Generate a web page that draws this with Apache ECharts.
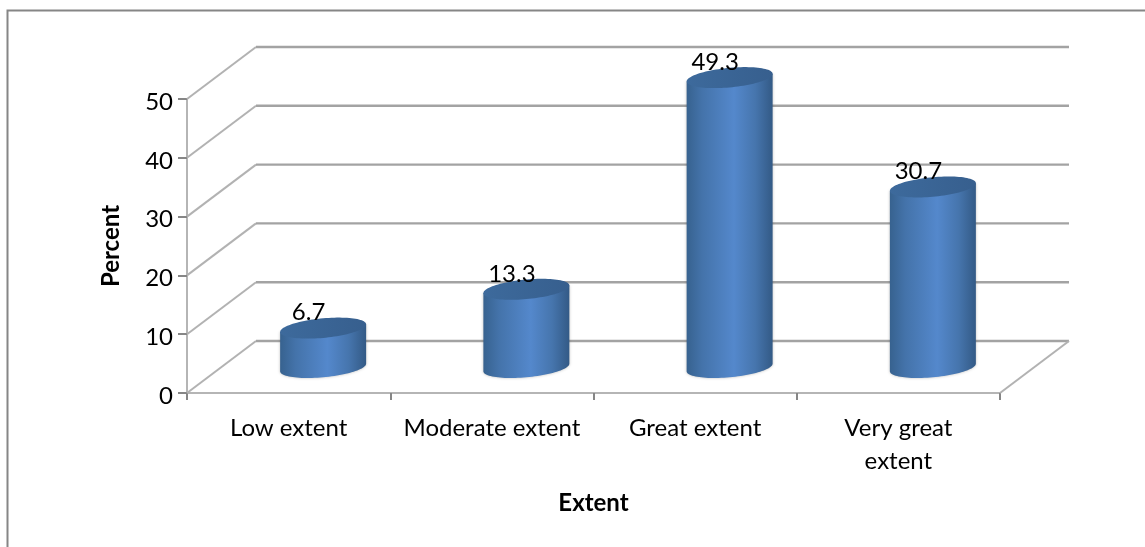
<!DOCTYPE html>
<html>
<head>
<meta charset="utf-8">
<style>html,body{margin:0;padding:0;background:#fff}#c{width:1145px;height:547px}</style>
<script src="https://cdn.jsdelivr.net/npm/echarts@6/dist/echarts.min.js"></script>
</head>
<body>
<div id="c"></div>
<script>
const categories = ['Low extent', 'Moderate extent', 'Great extent', 'Very great\nextent'];
const percents = [6.7, 13.3, 49.3, 30.7];
const wallTicks = [0, 10, 20, 30, 40, 50];

// Oblique projection used for the floor, the back wall and the cylinders
const DEPTH_X = 69, DEPTH_Y = -52;
const FONT = 'Lato, "Open Sans", sans-serif';
const TEXT_SIZE = 24;

const bodyFill = new echarts.graphic.LinearGradient(0, 0, 1, 0, [
  { offset: 0, color: '#37628f' },
  { offset: 0.18, color: '#4473aa' },
  { offset: 0.55, color: '#5488cc' },
  { offset: 0.8, color: '#4675ad' },
  { offset: 1, color: '#335a86' }
]);
const capFill = new echarts.graphic.LinearGradient(0, 0, 1, 0, [
  { offset: 0, color: '#3d6a9c' },
  { offset: 1, color: '#375f8e' }
]);

function renderWall(params, api) {
  const v = api.value(0);
  const g = params.coordSys;
  const y = api.coord([0, v])[1];
  const backY = y + DEPTH_Y;
  const sideStyle = { stroke: '#b2b2b2', lineWidth: 2 };
  const backStyle = { stroke: '#a3a3a3', lineWidth: 2.4 };
  const children = [
    {
      type: 'line',
      shape: { x1: g.x, y1: y, x2: g.x + DEPTH_X, y2: backY },
      style: sideStyle
    },
    {
      type: 'line',
      shape: { x1: g.x + DEPTH_X, y1: backY, x2: g.x + g.width + DEPTH_X, y2: backY },
      style: backStyle
    }
  ];
  if (v === 0) {
    children.push({
      type: 'line',
      shape: { x1: g.x + g.width, y1: y, x2: g.x + g.width + DEPTH_X, y2: backY },
      style: sideStyle
    });
  }
  return { type: 'group', children };
}

function renderCylinder(params, api) {
  const i = api.value(0);
  const v = api.value(1);
  const band = api.size([1, 0])[0];
  const base = api.coord([i, 0]);
  const top = api.coord([i, v]);
  const cx = base[0] + DEPTH_X / 2;
  const rx = band * 0.2115, ry = 9.8, tilt = 3.8;
  const baseY = base[1] - 25.5;
  const topY = top[1] - 25.5;
  const rim = (cy, a) => [cx + rx * Math.cos(a), cy + ry * Math.sin(a) - tilt * Math.cos(a)];
  const body = [rim(topY, 0)];
  const cap = [];
  for (let k = 0; k <= 48; k++) body.push(rim(baseY, Math.PI * k / 48));
  body.push(rim(topY, Math.PI));
  for (let k = 0; k < 96; k++) cap.push(rim(topY, 2 * Math.PI * k / 96));
  return {
    type: 'group',
    children: [
      {
        type: 'polygon', z2: 1, shape: { points: body },
        style: { fill: bodyFill, shadowBlur: 3, shadowColor: 'rgba(60,60,60,0.35)' }
      },
      { type: 'polygon', z2: 2, shape: { points: cap }, style: { fill: capFill } },
      {
        type: 'text', z2: 3,
        x: base[0] + 20, y: topY - 15.5,
        style: {
          text: String(v), font: TEXT_SIZE + 'px ' + FONT, fill: '#000',
          align: 'center', verticalAlign: 'middle'
        }
      }
    ]
  };
}

const chart = echarts.init(document.getElementById('c'), null, { renderer: 'canvas' });
chart.setOption({
  animation: false,
  backgroundColor: '#fff',
  graphic: [{
    type: 'polyline', silent: true,
    shape: { points: [[7.5, 547], [7.5, 10.5], [1145, 10.5]] },
    style: { stroke: '#868686', lineWidth: 2, fill: null }
  }],
  grid: { left: 187, right: 145, top: 99, bottom: 154 },
  xAxis: {
    type: 'category',
    data: categories,
    name: 'Extent',
    nameLocation: 'middle',
    nameGap: 98,
    nameTextStyle: { fontFamily: FONT, fontSize: TEXT_SIZE, fontWeight: 'bold', color: '#000' },
    axisLine: { lineStyle: { color: '#b5b5b5', width: 2 } },
    axisTick: { show: true, alignWithLabel: false, length: 7, lineStyle: { color: '#868686', width: 2 } },
    axisLabel: { interval: 0, margin: 19, fontFamily: FONT, fontSize: TEXT_SIZE, lineHeight: 33, color: '#000' },
    splitLine: { show: false }
  },
  yAxis: {
    type: 'value',
    min: 0, max: 50, interval: 10,
    name: 'Percent',
    nameLocation: 'middle',
    nameGap: 64,
    nameTextStyle: { fontFamily: FONT, fontSize: TEXT_SIZE, fontWeight: 'bold', color: '#000' },
    axisLine: { show: true, lineStyle: { color: '#b5b5b5', width: 2 } },
    axisTick: { show: true, length: 9, lineStyle: { color: '#868686', width: 2 } },
    axisLabel: { margin: 14, verticalAlign: 'top', lineHeight: 6, fontFamily: FONT, fontSize: TEXT_SIZE, color: '#000' },
    splitLine: { show: false }
  },
  series: [
    {
      name: 'Walls', type: 'custom', silent: true, z: 1,
      encode: { y: 0 },
      data: wallTicks.map(v => [v]),
      renderItem: renderWall,
      clip: false
    },
    {
      name: 'Percent', type: 'custom', silent: true, z: 3,
      encode: { x: 0, y: 1 },
      data: percents.map((v, i) => [i, v]),
      renderItem: renderCylinder,
      clip: false
    }
  ]
});
</script>
</body>
</html>
